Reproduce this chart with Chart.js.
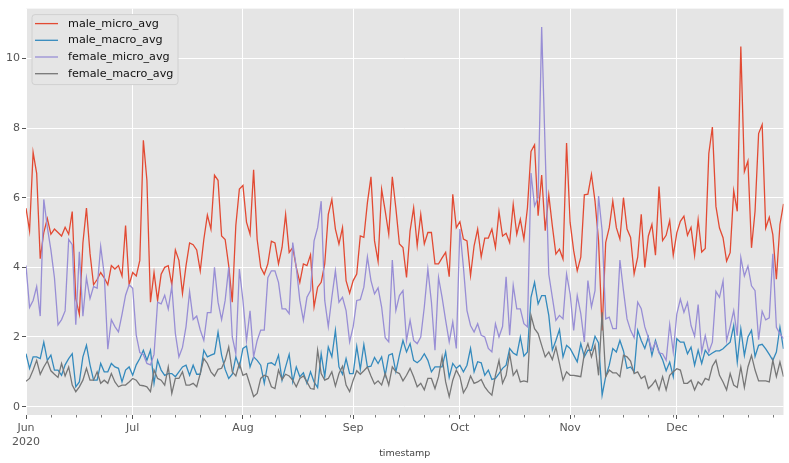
<!DOCTYPE html>
<html>
<head>
<meta charset="utf-8">
<script src="https://cdn.jsdelivr.net/npm/chart.js@4.4.1/dist/chart.umd.min.js"></script>
<style>
html, body { margin: 0; padding: 0; background: #ffffff; }
</style>
</head>
<body>
<canvas id="GraficoMedias" width="789" height="463"></canvas>
<script>
// dados diarios de 1 jun 2020 a 31 dez 2020
var inicio = [2020, 5, 1];
var meses = ['Jun', 'Jul', 'Aug', 'Sep', 'Oct', 'Nov', 'Dec'];
var ano = '2020';
var ticksY = [0, 2, 4, 6, 8, 10];

var maleMicroAvg = [
    5.7, 5.05, 7.3, 6.7, 4.25, 5.0, 5.4, 4.95, 5.1, 5.0, 4.9, 5.15, 4.95, 5.6, 3.1, 2.65, 4.7, 5.7, 4.4, 3.5, 3.65, 3.85, 3.7, 3.5, 4.05, 3.95, 4.05, 3.75, 5.2, 3.5, 3.85, 3.75, 4.2, 7.65, 6.5, 3.0,
    3.85, 3.05, 3.8, 4.0, 4.05, 3.5, 4.5, 4.2, 3.25, 4.05, 4.7, 4.65, 4.5, 3.9, 4.8, 5.5, 5.1, 6.65, 6.5, 4.9, 4.8, 4.05, 3.0, 5.2, 6.25, 6.35, 5.3, 4.95, 6.8, 4.8, 4.0, 3.8, 4.1, 4.75, 4.7,
    4.1, 4.57, 5.52, 4.43, 4.57, 4.0, 3.57, 4.1, 4.05, 4.36, 2.86, 3.43, 3.57, 4.1, 5.52, 5.95, 5.1, 4.67, 5.14, 3.62, 3.26, 3.62, 3.81, 4.9, 4.86, 5.86, 6.6, 4.76, 4.17, 6.24, 5.62, 4.95, 6.6, 5.7, 4.67,
    4.57, 3.71, 5.05, 5.71, 4.62, 5.52, 4.67, 5.0, 5.0, 4.1, 4.1, 4.27, 4.43, 3.73, 6.1, 5.14, 5.31, 4.81, 4.76, 3.76, 4.62, 5.1, 4.3, 4.84, 4.84, 5.1, 4.57, 5.6, 4.9, 4.98, 4.71, 5.81, 4.95, 5.38, 4.81,
    5.71, 7.33, 7.52, 5.48, 6.65, 5.05, 6.08, 5.19, 4.38, 4.52, 4.24, 7.57, 5.29, 4.48, 3.9, 4.29, 6.08, 6.1, 6.67, 5.9, 4.76, 2.19, 4.71, 5.14, 5.9, 5.14, 4.81, 6.0, 5.1, 4.86, 3.81, 4.29, 5.52, 4.0, 4.9,
    5.23, 4.35, 6.32, 4.77, 4.92, 5.34, 4.35, 4.99, 5.32, 5.47, 4.92, 5.15, 4.35, 5.37, 4.44, 4.54, 7.27, 8.03, 5.75, 5.13, 4.85, 4.18, 4.42, 6.2, 5.61, 10.34, 6.75, 7.05, 4.56, 5.61, 7.84, 8.1, 5.13, 5.44, 4.94, 3.66, 5.23, 5.82
];
var maleMacroAvg = [
    1.52, 1.1, 1.43, 1.43, 1.38, 1.85, 1.33, 1.48, 1.05, 1.05, 0.9, 1.2, 1.38, 1.52, 0.57, 0.71, 1.43, 1.76, 1.2, 0.76, 0.76, 1.24, 1.0, 1.0, 1.24, 1.14, 1.1, 0.71, 1.05, 1.14, 0.9, 1.2, 1.38, 1.62, 1.33, 1.62,
    0.67, 1.33, 1.05, 0.9, 0.95, 0.95, 0.86, 1.0, 1.14, 1.19, 0.9, 1.19, 0.93, 0.93, 1.62, 1.43, 1.48, 1.52, 2.14, 1.48, 1.07, 0.81, 0.93, 1.43, 1.14, 1.67, 1.74, 1.14, 1.43, 1.33, 1.19, 0.67, 1.24, 1.26, 1.19,
    1.48, 0.76, 1.14, 1.5, 0.71, 1.14, 0.86, 0.97, 0.67, 1.0, 0.71, 0.55, 1.52, 0.86, 1.71, 1.43, 2.19, 1.14, 0.93, 1.38, 0.95, 0.95, 1.73, 1.07, 1.78, 1.14, 1.16, 1.41, 1.24, 1.43, 0.9, 1.48, 1.52, 1.0, 1.48,
    1.9, 1.57, 1.81, 1.33, 1.26, 1.35, 1.52, 1.33, 1.0, 1.14, 1.14, 1.14, 1.57, 0.84, 1.24, 1.1, 1.19, 1.0, 1.19, 1.67, 1.0, 1.29, 1.26, 0.9, 1.05, 0.78, 0.81, 0.95, 1.1, 1.19, 1.67, 1.54, 1.48, 2.0, 1.45,
    1.57, 3.14, 3.57, 2.95, 3.19, 3.19, 2.62, 1.62, 1.9, 2.21, 1.43, 1.76, 1.67, 1.48, 1.29, 1.81, 1.43, 1.62, 1.62, 2.02, 1.83, 0.33, 0.86, 1.19, 1.67, 1.57, 1.9, 1.6, 1.1, 1.14, 1.0, 2.19, 1.9, 1.67, 2.0,
    1.47, 1.9, 1.57, 1.35, 1.03, 1.28, 0.86, 1.95, 1.85, 1.85, 1.52, 1.71, 1.19, 1.62, 1.24, 1.62, 1.47, 1.54, 1.6, 1.6, 1.66, 1.76, 1.85, 2.33, 1.28, 2.23, 1.47, 2.0, 2.19, 1.44, 1.76, 1.79, 1.66, 1.5, 1.33, 1.57, 2.28, 1.66
];
var femaleMicroAvg = [
    4.05, 2.85, 3.05, 3.45, 2.6, 5.95, 5.15, 4.5, 3.7, 2.35, 2.5, 2.75, 4.8, 4.65, 2.35, 4.45, 2.6, 3.7, 3.1, 3.45, 3.4, 4.6, 3.8, 1.65, 2.5, 2.3, 2.15, 2.65, 3.2, 3.5, 3.4, 2.05, 1.55, 1.5, 1.24, 1.2,
    1.5, 3.0, 2.95, 3.2, 2.8, 3.45, 2.1, 1.43, 1.7, 2.3, 3.3, 2.5, 2.6, 2.2, 1.9, 2.7, 2.7, 4.0, 3.0, 2.5, 3.05, 4.0, 2.0, 1.52, 3.95, 3.05, 1.9, 2.75, 1.43, 1.9, 2.2, 2.2, 3.7, 3.9, 3.9,
    3.57, 2.81, 2.81, 2.67, 4.71, 4.0, 3.05, 2.48, 3.14, 3.33, 4.76, 5.14, 5.9, 3.05, 2.3, 3.14, 3.9, 3.0, 3.14, 2.76, 1.86, 2.3, 3.05, 3.07, 3.43, 4.3, 3.62, 3.24, 3.41, 2.86, 1.98, 1.86, 4.21, 2.76, 3.19,
    3.33, 1.9, 2.48, 1.9, 1.81, 2.0, 2.86, 3.95, 3.0, 1.62, 3.71, 3.14, 2.48, 1.86, 2.43, 1.67, 5.1, 4.0, 2.76, 2.33, 2.14, 2.38, 2.05, 2.0, 1.67, 1.57, 2.38, 2.0, 2.3, 3.73, 2.05, 3.48, 2.81, 2.81, 2.38,
    2.29, 6.71, 5.76, 6.0, 10.9, 7.3, 3.8, 3.14, 2.48, 2.62, 2.52, 3.81, 3.24, 2.19, 3.19, 2.67, 1.86, 3.62, 2.86, 3.33, 6.05, 5.05, 2.52, 2.57, 2.24, 2.24, 4.21, 3.33, 2.52, 2.19, 1.98, 3.0, 2.81, 2.29, 1.98,
    1.62, 1.85, 1.54, 1.52, 1.33, 2.36, 1.57, 2.66, 3.09, 2.71, 2.99, 2.33, 2.02, 2.93, 1.57, 2.04, 1.57, 1.85, 3.31, 3.14, 3.61, 1.9, 2.3, 2.76, 2.04, 4.28, 3.75, 4.04, 3.47, 3.33, 1.92, 2.74, 2.49, 2.55, 4.39, 2.28, 2.09, 1.95
];
var femaleMacroAvg = [
    0.73, 0.81, 1.05, 1.33, 0.93, 1.14, 1.31, 1.03, 0.93, 0.84, 1.24, 0.88, 1.14, 0.62, 0.43, 0.57, 0.76, 1.1, 0.76, 0.76, 1.0, 0.67, 0.76, 0.67, 0.95, 0.71, 0.57, 0.62, 0.62, 0.71, 0.81, 0.76, 0.62, 0.6, 0.57, 0.43,
    1.05, 0.81, 0.76, 0.62, 1.14, 0.38, 0.81, 0.81, 1.0, 0.62, 0.62, 0.67, 0.57, 0.95, 1.38, 1.24, 1.0, 0.88, 1.07, 1.1, 1.33, 1.71, 1.0, 0.88, 1.24, 0.9, 0.95, 0.62, 0.29, 0.38, 0.81, 0.9, 0.86, 0.57, 0.52,
    1.05, 0.78, 0.93, 0.88, 0.76, 0.57, 0.81, 0.88, 0.71, 0.52, 0.5, 1.62, 0.95, 0.76, 0.81, 1.0, 0.59, 0.95, 1.16, 0.62, 0.43, 0.76, 1.03, 0.93, 1.03, 1.14, 0.88, 0.65, 0.74, 0.62, 0.95, 0.62, 1.14, 1.0, 0.95,
    0.74, 0.9, 1.1, 0.86, 0.57, 0.67, 0.48, 0.81, 0.81, 0.52, 0.86, 1.43, 0.71, 0.29, 0.76, 1.05, 0.86, 0.4, 0.57, 0.88, 0.67, 0.71, 0.78, 0.57, 0.43, 0.33, 0.9, 1.33, 0.67, 0.9, 1.52, 0.9, 1.05, 0.71, 0.74,
    0.71, 2.62, 2.24, 2.1, 1.76, 1.43, 1.57, 1.35, 1.71, 1.24, 0.76, 1.0, 0.9, 0.9, 0.88, 0.86, 1.52, 1.81, 1.43, 1.76, 0.9, 2.71, 0.86, 1.05, 0.97, 0.97, 0.86, 1.48, 1.43, 1.31, 0.95, 1.0, 0.81, 0.88, 0.52,
    0.62, 0.76, 0.48, 0.86, 0.48, 0.9, 1.0, 1.09, 1.05, 0.67, 0.67, 0.76, 0.48, 0.71, 0.62, 0.81, 0.76, 1.16, 1.33, 0.9, 0.71, 0.48, 0.95, 0.62, 0.55, 1.14, 0.55, 1.14, 1.47, 1.05, 0.74, 0.74, 0.74, 0.71, 1.33, 0.86, 1.28, 0.86
];

// um dia por ponto, a partir de 1 de junho
var dias = maleMicroAvg.map(function (v, i) {
    return new Date(inicio[0], inicio[1], inicio[2] + i);
});
var inicioMes = [];
dias.forEach(function (d, i) {
    if (d.getDate() === 1) inicioMes.push(i);
});

function pontos(serie) {
    return serie.map(function (v, i) { return { x: i, y: v }; });
}

var fonte = 'DejaVu Sans';

var fundoPlot = {
    id: 'fundoPlot',
    beforeDraw: function (chart) {
        var a = chart.chartArea, ctx = chart.ctx;
        ctx.save();
        ctx.fillStyle = '#E5E5E5';
        ctx.fillRect(a.left, a.top, a.right - a.left, a.bottom - a.top);
        ctx.restore();
    }
};

// ticks menores nas segundas-feiras
var ticksMenores = {
    id: 'ticksMenores',
    afterDraw: function (chart) {
        var sx = chart.scales.x, ctx = chart.ctx, base = chart.chartArea.bottom;
        ctx.save();
        ctx.strokeStyle = '#555555';
        ctx.lineWidth = 0.8;
        dias.forEach(function (d, i) {
            if (d.getDay() === 1 && d.getDate() !== 1) {
                var px = Math.round(sx.getPixelForValue(i)) + 0.5;
                ctx.beginPath();
                ctx.moveTo(px, base);
                ctx.lineTo(px, base + 2.5);
                ctx.stroke();
            }
        });
        ctx.restore();
    }
};

var legenda = {
    id: 'legenda',
    afterDatasetsDraw: function (chart) {
        var ctx = chart.ctx, a = chart.chartArea;
        var x = a.left + 6, y = a.top + 6, w = 146, h = 70, r = 3;
        ctx.save();
        ctx.beginPath();
        ctx.moveTo(x + r, y);
        ctx.arcTo(x + w, y, x + w, y + h, r);
        ctx.arcTo(x + w, y + h, x, y + h, r);
        ctx.arcTo(x, y + h, x, y, r);
        ctx.arcTo(x, y, x + w, y, r);
        ctx.closePath();
        ctx.fillStyle = '#E5E5E5';
        ctx.fill();
        ctx.strokeStyle = '#D0D0D0';
        ctx.lineWidth = 1;
        ctx.stroke();
        ctx.font = '11.2px "' + fonte + '"';
        ctx.textBaseline = 'middle';
        chart.data.datasets.forEach(function (ds, i) {
            var cy = y + 9 + i * 16.7;
            ctx.strokeStyle = ds.borderColor;
            ctx.lineWidth = 1.3;
            ctx.beginPath();
            ctx.moveTo(x + 3, cy);
            ctx.lineTo(x + 26, cy);
            ctx.stroke();
            ctx.fillStyle = '#111111';
            ctx.fillText(ds.label, x + 36, cy);
        });
        ctx.restore();
    }
};

function serie(label, dados, cor, ordem) {
    return {
        label: label,
        data: pontos(dados),
        borderColor: cor,
        backgroundColor: cor,
        borderWidth: 1.3,
        pointRadius: 0,
        tension: 0,
        fill: false,
        order: ordem
    };
}

new Chart(document.getElementById('GraficoMedias'), {
    type: 'line',
    data: {
        datasets: [
            serie('male_micro_avg', maleMicroAvg, '#E24A33', 3),
            serie('male_macro_avg', maleMacroAvg, '#348ABD', 2),
            serie('female_micro_avg', femaleMicroAvg, '#988ED5', 1),
            serie('female_macro_avg', femaleMacroAvg, '#777777', 0)
        ]
    },
    plugins: [fundoPlot, ticksMenores, legenda],
    options: {
        responsive: false,
        animation: false,
        layout: { padding: { left: 0, top: 5.5, right: 5.5, bottom: 0 } },
        plugins: {
            legend: { display: false },
            tooltip: { enabled: false }
        },
        scales: {
            x: {
                type: 'linear',
                min: 0,
                max: dias.length - 1,
                afterBuildTicks: function (s) {
                    s.ticks = inicioMes.map(function (v) { return { value: v }; });
                },
                afterFit: function (s) { s.height = 48; },
                ticks: {
                    autoSkip: false,
                    maxRotation: 0,
                    color: '#555555',
                    padding: 3,
                    font: { family: fonte, size: 11 },
                    callback: function (value) {
                        var idx = inicioMes.indexOf(value);
                        return idx === 0 ? [meses[idx], ano] : meses[idx];
                    }
                },
                grid: { color: '#ffffff', lineWidth: 1, tickColor: '#555555', tickLength: 4 },
                border: { display: false },
                title: {
                    display: true,
                    text: 'timestamp',
                    color: '#444444',
                    font: { family: fonte, size: 9.5 },
                    padding: { top: 0, bottom: 4 }
                }
            },
            y: {
                min: -0.24,
                max: 11.43,
                afterBuildTicks: function (s) {
                    s.ticks = ticksY.map(function (v) { return { value: v }; });
                },
                afterFit: function (s) { s.width = 26; },
                ticks: {
                    color: '#555555',
                    padding: 2,
                    font: { family: fonte, size: 11 }
                },
                grid: { color: '#ffffff', lineWidth: 1, tickColor: '#555555', tickLength: 4 },
                border: { display: false }
            }
        }
    }
});
</script>
</body>
</html>
